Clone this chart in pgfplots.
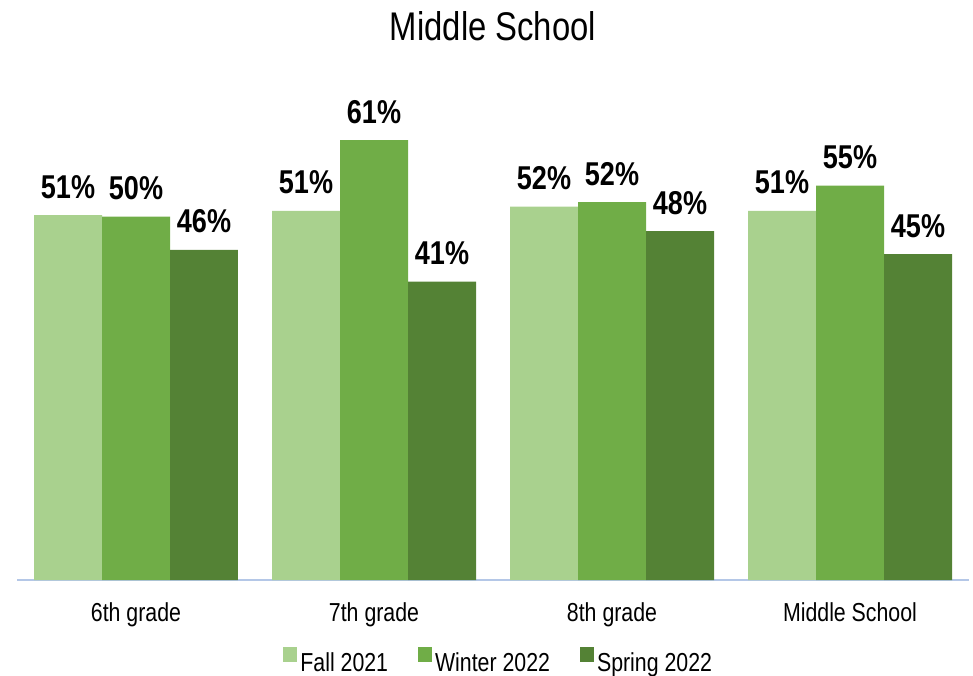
\documentclass[border=0pt]{standalone}
\usepackage{fontspec}
\setmainfont{Liberation Sans}[FakeStretch=0.82]
\usepackage{pgfplots}
\pgfplotsset{compat=1.18}
\definecolor{fallc}{HTML}{A9D18E}
\definecolor{winc}{HTML}{70AD47}
\definecolor{sprc}{HTML}{548235}
\definecolor{axc}{HTML}{B4C7E7}
\begin{document}
\begin{tikzpicture}
\useasboundingbox (-17pt,-96pt) rectangle (956pt,580pt);
\begin{axis}[
  at={(0pt,0pt)}, anchor=south west,
  scale only axis, width=952pt, height=504.7pt,
  ybar=0pt, bar width=0.2857,
  xmin=-0.5, xmax=3.5, ymin=0, ymax=70,
  axis x line*=bottom, axis y line=none,
  x axis line style={draw=axc, line width=1.5pt},
  xtick={0,1,2,3}, xticklabels={6th grade,7th grade,8th grade,Middle School},
  xtick style={draw=none},
  xticklabel style={font=\fontsize{26}{30}\selectfont, anchor=base, yshift=-37pt},
  title={Middle School},
  title style={font=\fontsize{40}{46}\selectfont, anchor=center, at={(axis description cs:0.5,1.0858)}},
  nodes near coords={\pgfmathprintnumber[fixed,precision=0,assume math mode=true]{\pgfplotspointmeta}\%},
  nodes near coords style={font=\fontsize{33}{38}\selectfont\bfseries, anchor=base, yshift=17pt, black},
  legend columns=3,
  legend style={at={(axis description cs:0.506,-0.1605)}, anchor=center, draw=none, fill=none,
    font=\fontsize{26}{30}\selectfont,
    /tikz/every even column/.append style={column sep=28pt},
    /tikz/every odd column/.append style={column sep=1pt}},
  legend image code/.code={\fill[#1] (0pt,0pt) rectangle (14pt,15pt);},
]
\addplot[fill=fallc, draw=none] coordinates {(0,50.6) (1,51.2) (2,51.8) (3,51.2)};
\addplot[fill=winc, draw=none] coordinates {(0,50.4) (1,61.0) (2,52.4) (3,54.7)};
\addplot[fill=sprc, draw=none] coordinates {(0,45.8) (1,41.4) (2,48.4) (3,45.2)};
\legend{Fall 2021, Winter 2022, Spring 2022}
\end{axis}
\end{tikzpicture}
\end{document}
